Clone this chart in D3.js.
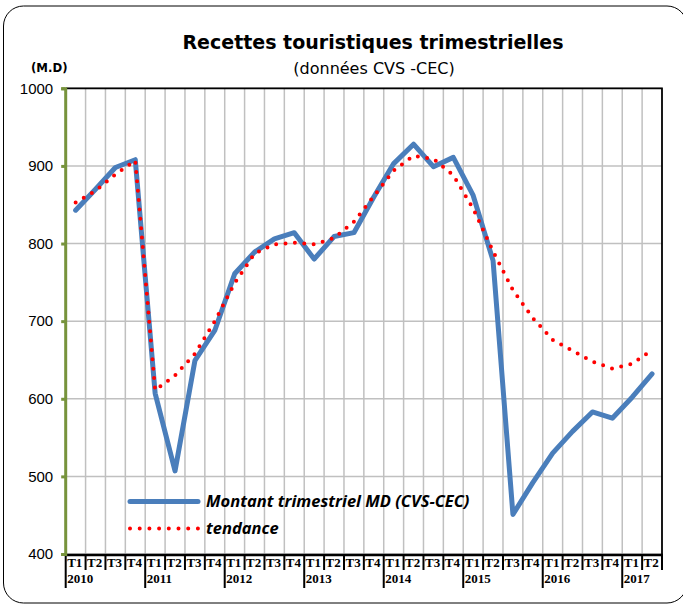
<!DOCTYPE html>
<html>
<head>
<meta charset="utf-8">
<script src="https://cdn.jsdelivr.net/npm/d3@7"></script>
<style>
  body { margin: 0; background: #fff; }
  svg { display: block; }
</style>
</head>
<body>
<svg id="chart" width="683" height="607"></svg>
<script>
// quarters 2010 T1 -> 2017 T2
const years = ["2010", "2011", "2012", "2013", "2014", "2015", "2016", "2017"];
const quarters = [
  "T1", "T2", "T3", "T4", "T1", "T2", "T3", "T4", "T1", "T2", "T3", "T4",
  "T1", "T2", "T3", "T4", "T1", "T2", "T3", "T4", "T1", "T2", "T3", "T4",
  "T1", "T2", "T3", "T4", "T1", "T2"
];
const montant = [
  843, 870, 898, 908, 607, 507, 649, 688, 761, 789, 806, 814,
  780, 809, 814, 860, 903, 928, 899, 911, 862, 778, 451, 492,
  530, 558, 583, 575, 602, 632
];
const tendance = [
  853, 868, 889, 907, 611, 630, 658, 700, 749, 787, 799, 801,
  799, 807, 828, 861, 894, 913, 909, 888, 845, 790, 740, 704,
  676, 662, 648, 639, 645, 663
];
const yTicks = [400, 500, 600, 700, 800, 900, 1000];

const svg = d3.select("#chart");
const width = 683;
const height = 607;
const margin = { top: 88.3, right: 21, bottom: 53, left: 65.7 };

// the period keys (index based since quarter names repeat)
const periods = quarters.map((q, i) => years[Math.floor(i / 4)] + q);

// outer rounded frame
svg.append("rect")
    .attr("x", 3.5)
    .attr("y", 6)
    .attr("width", 683.5)
    .attr("height", 597)
    .attr("rx", 20)
    .attr("fill", "#fff")
    .attr("stroke", "#000")
    .attr("stroke-width", 1);

const x = d3.scaleBand()
    .domain(periods)
    .range([margin.left, width - margin.right])
    .padding(0);

const y = d3.scaleLinear()
    .domain([400, 1000])
    .range([height - margin.bottom, margin.top]);

const xc = (d, i) => x(periods[i]) + x.bandwidth() / 2;

// gridlines
svg.append("g")
    .selectAll("line")
    .data(yTicks)
    .join("line")
    .attr("x1", margin.left)
    .attr("x2", width - margin.right)
    .attr("y1", d => y(d))
    .attr("y2", d => y(d))
    .attr("stroke", "#c0c0c0")
    .attr("stroke-width", 1.5);

svg.append("g")
    .selectAll("line")
    .data(periods.slice(1))
    .join("line")
    .attr("x1", d => x(d))
    .attr("x2", d => x(d))
    .attr("y1", y(1000))
    .attr("y2", y(400))
    .attr("stroke", "#c0c0c0")
    .attr("stroke-width", 1.5);

// top and right border
svg.append("path")
    .attr("d", `M${margin.left},${y(1000)}H${width - margin.right}V${y(400)}`)
    .attr("fill", "none")
    .attr("stroke", "#000")
    .attr("stroke-width", 1.8);

// x-axis: line, ticks, quarter and year labels
const xAxis = svg.append("g");
xAxis.append("line")
    .attr("x1", margin.left)
    .attr("x2", width - margin.right + 1)
    .attr("y1", y(400) + 1)
    .attr("y2", y(400) + 1)
    .attr("stroke", "#000")
    .attr("stroke-width", 2.5);

const bounds = periods.map(p => x(p)).concat([x.range()[1]]);
xAxis.selectAll("line.tick")
    .data(bounds)
    .join("line")
    .attr("class", "tick")
    .attr("x1", d => d)
    .attr("x2", d => d)
    .attr("y1", y(400))
    .attr("y2", (d, i) => (i % 4 === 0 && i < periods.length) ? 588 : 570)
    .attr("stroke", "#000")
    .attr("stroke-width", 2);

xAxis.selectAll("text.q")
    .data(quarters)
    .join("text")
    .attr("class", "q")
    .attr("x", (d, i) => x(periods[i]) + 1.5)
    .attr("y", 567)
    .text(d => d)
    .style("font-family", "'Liberation Serif', 'Times New Roman', serif")
    .style("font-size", "13px")
    .style("font-weight", "bold");

xAxis.selectAll("text.yr")
    .data(years)
    .join("text")
    .attr("class", "yr")
    .attr("x", (d, i) => x(periods[i * 4]) + 1.5)
    .attr("y", 583)
    .text(d => d)
    .style("font-family", "'Liberation Serif', 'Times New Roman', serif")
    .style("font-size", "13px")
    .style("font-weight", "bold");

// y-axis (green)
const yAxis = svg.append("g")
    .attr("transform", `translate(${margin.left - 0.5},0)`)
    .call(d3.axisLeft(y).tickValues(yTicks).tickFormat(d3.format("d")).tickSize(4).tickPadding(8));
yAxis.select(".domain")
    .attr("stroke", "#77933c")
    .attr("stroke-width", 3);
yAxis.selectAll(".tick line")
    .attr("stroke", "#77933c")
    .attr("stroke-width", 3);
yAxis.selectAll(".tick text")
    .attr("fill", "#000")
    .style("font-family", "'Liberation Sans', Arial, sans-serif")
    .style("font-size", "15px");

// series
const line = d3.line()
    .x(xc)
    .y(d => y(d));

svg.append("path")
    .datum(montant)
    .attr("d", line)
    .attr("fill", "none")
    .attr("stroke", "#4a7ebb")
    .attr("stroke-width", 5)
    .attr("stroke-linejoin", "round")
    .attr("stroke-linecap", "round");

svg.append("path")
    .datum(tendance)
    .attr("d", line)
    .attr("fill", "none")
    .attr("stroke", "#ff0000")
    .attr("stroke-width", 4)
    .attr("stroke-linecap", "round")
    .attr("stroke-dasharray", "0 9.4");

// legend
const legend = svg.append("g");
legend.append("line")
    .attr("x1", 130).attr("x2", 198)
    .attr("y1", 501.5).attr("y2", 501.5)
    .attr("stroke", "#4a7ebb")
    .attr("stroke-width", 5)
    .attr("stroke-linecap", "round");
legend.append("line")
    .attr("x1", 130).attr("x2", 198)
    .attr("y1", 528.5).attr("y2", 528.5)
    .attr("stroke", "#ff0000")
    .attr("stroke-width", 4)
    .attr("stroke-linecap", "round")
    .attr("stroke-dasharray", "0 9.7");
legend.selectAll("text")
    .data(["Montant trimestriel MD (CVS-CEC)", "tendance"])
    .join("text")
    .attr("x", 206)
    .attr("y", (d, i) => 507 + i * 27)
    .text(d => d)
    .style("font-family", "'Open Sans', 'Liberation Sans', sans-serif")
    .style("font-size", "16.5px")
    .style("font-weight", "bold")
    .style("font-style", "italic");

// titles
svg.append("text")
    .attr("x", 373)
    .attr("y", 49)
    .attr("text-anchor", "middle")
    .text("Recettes touristiques trimestrielles")
    .style("font-family", "'DejaVu Sans', sans-serif")
    .style("font-size", "19px")
    .style("font-weight", "bold");

svg.append("text")
    .attr("x", 374)
    .attr("y", 74)
    .attr("text-anchor", "middle")
    .text("(données CVS -CEC)")
    .style("font-family", "'DejaVu Sans', sans-serif")
    .style("font-size", "16px");

svg.append("text")
    .attr("x", 31)
    .attr("y", 72)
    .text("(M.D)")
    .style("font-family", "'DejaVu Sans Condensed', 'DejaVu Sans', sans-serif")
    .style("font-size", "13px")
    .style("font-weight", "bold");
</script>
</body>
</html>
